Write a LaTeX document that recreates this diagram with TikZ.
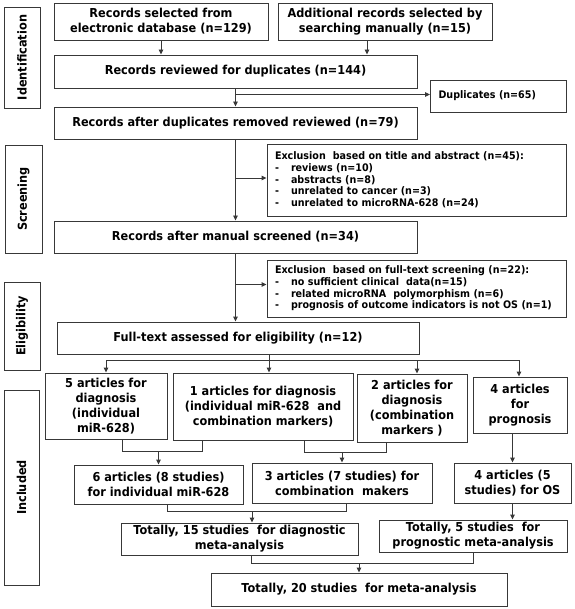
\documentclass[tikz,border=0pt]{standalone}
\usepackage{fontspec}
\setmainfont{DejaVu Sans}[FakeStretch=0.92]
\usetikzlibrary{arrows.meta}
\newcommand\mainf{\fontsize{12.3}{15}\selectfont\bfseries}
\newcommand\smallf{\fontsize{10.4}{11.7}\selectfont\bfseries}
\newcommand\itm{\makebox[16pt][l]{-}}
\newcommand\mybox[7][]{\node[box,#1,minimum width={(#5-#3)*1pt},minimum height={(#6-#4)*1pt}] (#2) at ({(#3+#5)/2},{(#4+#6)/2}) {#7};}
\newcommand\sidebox[6]{\node[box,rotate=90,minimum width={(#5-#3)*1pt},minimum height={(#4-#2)*1pt}] (#1) at ({(#2+#4)/2},{(#3+#5)/2}) {#6};}
\begin{document}
\begin{tikzpicture}[x=1pt,y=-1pt,
  box/.style={draw=black!78,line width=0.9pt,inner sep=1pt,align=center,font=\mainf},
  exbox/.style={box,font=\smallf,align=left,inner xsep=8pt},
  line/.style={draw=black!78,line width=0.9pt},
  arr/.style={line,-{Triangle[length=5pt,width=4.5pt]}}]
\useasboundingbox (0,0) rectangle (574,609);
% side labels
\sidebox{id}{4}{7}{40}{108}{Identification}
\sidebox{sc}{5}{145}{42}{253}{Screening}
\sidebox{el}{4}{282}{40}{370}{Eligibility}
\sidebox{inc}{4}{390}{39}{585}{Included}
% boxes
\mybox{A}{54}{3}{268}{40}{Records selected from\\electronic database (n=129)}
\mybox{B}{278}{3}{492}{40}{Additional records selected by\\searching manually (n=15)}
\mybox{C}{54}{55}{417}{88}{Records reviewed for duplicates (n=144)}
\mybox[exbox,text width=120pt]{dup}{431}{80}{566}{112}{\raisebox{3pt}{Duplicates (n=65)}}
\mybox{D}{54}{107}{417}{139}{Records after duplicates removed reviewed (n=79)}
\mybox[exbox,text width=283pt]{exa}{267}{144}{566}{216}{Exclusion\ \ based on title and abstract (n=45):\\
\itm reviews (n=10)\\ \itm abstracts (n=8)\\ \itm unrelated to cancer (n=3)\\ \itm unrelated to microRNA-628 (n=24)}
\mybox{E}{54}{221}{417}{253}{Records after manual screened (n=34)}
\mybox[exbox,text width=283pt]{exb}{267}{260}{566}{317}{Exclusion\ \ based on full-text screening (n=22):\\
\itm no sufficient clinical\ \ data(n=15)\\ \itm related microRNA\ \ polymorphism (n=6)\\ \itm prognosis of outcome indicators is not OS (n=1)}
\mybox{F}{57}{322}{419}{354}{Full-text assessed for eligibility (n=12)}
\mybox{G1}{45}{373}{167}{439}{5 articles for\\diagnosis\\(individual\\miR-628)}
\mybox{G2}{173}{373}{353}{440}{1 articles for diagnosis\\(individual miR-628\ \ and\\combination markers)}
\mybox{G3}{357}{374}{467}{442}{2 articles for\\diagnosis\\(combination\\markers )}
\mybox{G4}{473}{377}{567}{433}{4 articles\\for\\prognosis}
\mybox{H1}{74}{465}{243}{504}{6 articles (8 studies)\\for individual miR-628}
\mybox{H2}{252}{463}{432}{503}{3 articles (7 studies) for\\combination\ \ makers}
\mybox{H3}{454}{463}{571}{503}{4 articles (5\\studies) for OS}
\mybox{I1}{121}{523}{358}{555}{Totally, 15 studies\ \ for diagnostic\\meta-analysis}
\mybox{I2}{379}{520}{567}{552}{Totally, 5 studies\ \ for\\prognostic meta-analysis}
\mybox{J}{211}{573}{507}{606}{Totally, 20 studies\ \ for meta-analysis}
% helper coordinates
\coordinate (xB) at (367,0);
\coordinate (bus1) at (106,360);
\coordinate (bus2) at (269,360);
\coordinate (bus3) at (417,360);
\coordinate (bus4) at (519,360);
\coordinate (k1) at (122,451);
\coordinate (k2) at (202,451);
\coordinate (k3) at (304,452);
\coordinate (k4) at (386,452);
\coordinate (m1) at (167,511);
\coordinate (m2) at (346,511);
\coordinate (m3) at (252,511);
\coordinate (n1) at (251,563);
\coordinate (n2) at (473,563);
% connectors
\draw[arr] (A.south) -- (A.south |- C.north);
\draw[arr] (B.south -| xB) -- (C.north -| xB);
\draw[arr] (C.south) -- (D.north);
\draw[arr] ([yshift=1.5pt]dup.west -| C.south) -- ([yshift=1.5pt]dup.west);
\draw[arr] (D.south) -- (D.south |- E.north);
\draw[arr] ([yshift=2pt]exa.west -| D.south) -- ([yshift=2pt]exa.west);
\draw[arr] (E.south) -- (E.south |- F.north);
\draw[arr] ([yshift=4pt]exb.west -| E.south) -- ([yshift=4pt]exb.west);
\draw[arr] (F.south -| bus2) -- (G2.north -| bus2);
\draw[line] (bus1) -- (bus4);
\draw[arr] (bus1) -- (G1.north -| bus1);
\draw[arr] (bus3) -- (G3.north -| bus3);
\draw[arr] (bus4) -- (G4.north -| bus4);
\draw[line] (G1.south -| k1) -- (k1) -- (k2) -- (G2.south -| k2);
\draw[arr] (H1.north |- k1) -- (H1.north);
\draw[line] (G2.south -| k3) -- (k3) -- (k4) -- (G3.south -| k4);
\draw[arr] (H2.north |- k3) -- (H2.north);
\draw[arr] (H3.north |- G4.south) -- (H3.north);
\draw[line] (H1.south -| m1) -- (m1) -- (m2) -- (H2.south -| m2);
\draw[arr] (m3) -- (I1.north -| m3);
\draw[arr] (H3.south) -- (H3.south |- I2.north);
\draw[line] (I1.south -| n1) -- (n1) -- (n2) -- (I2.south -| n2);
\draw[arr] (J.north |- n1) -- (J.north);
\end{tikzpicture}
\end{document}
